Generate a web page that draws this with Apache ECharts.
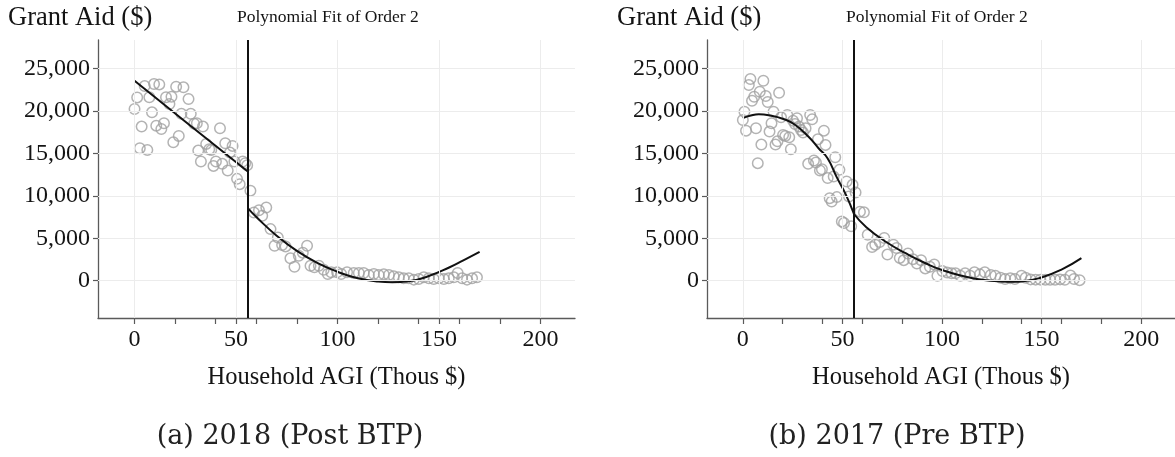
<!DOCTYPE html>
<html>
<head>
<meta charset="utf-8">
<script src="https://cdn.jsdelivr.net/npm/echarts@6/dist/echarts.min.js"></script>
<style>
  html, body { margin: 0; padding: 0; background: #fff; }
  #chart { width: 1175px; height: 457px; }
</style>
</head>
<body>
<div id="chart"></div>
<script>
// Binned grant aid (USD) against household AGI (thousands of USD)
const aid2018 = [
  [0,20220],[1.3,21590],[2.6,15600],[3.5,18150],[5,22920],[6.3,15400],[7.3,21600],[8.6,19830],
  [9.6,23160],[10.7,18260],[12.2,23120],[13.2,17870],[14.5,18540],[15.5,21600],[17.2,20810],
  [18.2,21670],[19.1,16300],[20.5,22850],[21.8,17050],[23.1,19650],[24.1,22770],[26.6,21400],
  [27.7,19650],[29.4,18480],[30.7,18540],[31.4,15320],[32.7,14030],[33.7,18150],[35.3,16110],
  [36.8,15480],[37.8,15400],[38.9,13520],[40.1,14030],[42.1,17950],[43.2,13760],[44.7,16190],
  [45.9,12970],[47.0,15090],[48.3,15870],[49.2,14030],[50.5,11990],[51.8,11370],[53.3,14030],
  [54.5,13840],[55.5,13600],
  [57.1,10600],[58.8,8030],[61.3,8300],[62.9,7640],[64.9,8620],[67.0,6070],[69.0,4110],
  [70.6,5090],[72.7,4190],[74.4,4030],[76.8,2630],[78.8,1640],[80.9,2940],[82.9,3300],
  [85.0,4110],[86.7,1760],[88.6,1570],[90.8,1760],[93.2,1290],[95.2,780],[96.9,980],[99.8,980],
  [101.8,780],[104.7,980],[108.0,900],[110.5,900],[112.9,900],[115.4,670],[117.9,780],
  [120.3,670],[122.8,740],[125.3,670],[127.7,510],[130.2,390],[132.6,270],[135.1,270],
  [137.6,120],[140,200],[142.5,390],[145,270],[147.4,200],[149.9,270],[152.4,200],[154.8,270],
  [157.3,390],[159.2,900],[161.4,270],[163.8,120],[166.3,270],[168.7,390]
];
const aid2017 = [
  [0,18930],[0.8,19910],[1.6,17670],[3.0,23040],[3.8,23750],[4.6,21200],[5.7,21670],[6.6,17950],
  [7.5,13840],[8.5,22260],[9.3,16030],[10.3,23550],[11.5,21750],[12.5,21040],[13.4,17560],
  [14.4,18540],[15.4,19910],[16.4,16030],[17.4,16420],[18.2,22140],[19.2,19240],[20.2,17170],
  [21.3,17050],[22.3,19520],[23.3,16890],[24.1,15480],[25.2,18850],[26.2,18460],[27.2,19130],
  [28.2,18150],[29.2,17750],[30.2,17440],[31.5,17950],[32.8,13760],[33.8,19520],[34.8,19000],
  [35.7,14150],[36.7,13920],[37.7,16660],[38.7,12980],[39.7,13130],[40.7,17670],[41.5,15990],
  [42.6,12080],[43.6,9720],[44.6,9330],[45.6,12270],[46.4,14540],[47.2,9840],[48.5,13050],
  [49.7,6980],[50.8,6790],[52.1,11680],[53.3,9920],[54.4,6400],[55.1,11290],
  [56.6,10390],[58.8,8130],[60.8,8050],[62.7,5410],[64.9,3970],[66.5,4240],[68.7,4550],
  [71.0,5020],[72.6,3070],[75.6,4240],[77.2,3850],[78.8,2680],[80.8,2410],[82.9,3190],
  [85.4,2530],[87.4,2020],[89.5,2410],[91.6,1440],[93.9,1630],[96.1,1910],[97.7,580],
  [100.2,1130],[102.6,970],[104.8,860],[106.8,860],[109.2,580],[111.6,860],[114.1,580],
  [116.3,980],[119,740],[121.5,980],[124.5,670],[126.8,590],[129.4,350],[131.7,200],
  [134.3,270],[136.6,200],[139.9,590],[142,350],[144.5,150],[147,120],[149.4,120],[151.9,100],
  [154.3,100],[156.8,100],[159.3,150],[161.7,100],[164.5,600],[166.3,200],[169.1,60]
];

// Order-2 polynomial fits on each side of the threshold
const fit2018Below = [[0,23550],[28,18150],[55.8,12850]];
const fit2018Above = [[55.8,8540],[60,7500],[70,5300],[80,3500],[90,2100],[100,1050],[110,280],
  [120,-100],[127,-180],[135,-80],[145,550],[155,1550],[162,2400],[170,3400]];
const fit2017Below = [[0,19150],[4,19450],[8,19600],[14,19450],[20,19080],[26,18400],[33,16950],
  [38,15600],[42.6,14400],[47,12250],[51.6,10200],[55.8,7850]];
const fit2017Above = [[55.8,7850],[62,6300],[72,4550],[82,3200],[92,2020],[100,1250],[110,580],
  [120,100],[130,-100],[136,-130],[140,-90],[150,380],[160,1300],[170,2650]];

const threshold = 55.8;

const xLabelValues = [0, 50, 100, 150, 200];
const xTickValues = [0, 20, 40, 50, 60, 80, 100, 120, 140, 150, 160, 180, 200];
const yLabelValues = [0, 5000, 10000, 15000, 20000, 25000];

const panelTitle = 'Polynomial Fit of Order 2';
const yName = 'Grant Aid ($)';
const xName = 'Household AGI (Thous $)';
const captions = ['(a) 2018 (Post BTP)', '(b) 2017 (Pre BTP)'];

const SERIF = '"Liberation Serif", "Times New Roman", serif';
const AXIS_COLOR = '#5a5a5a';
const GRID_COLOR = '#ececec';
const TEXT_COLOR = '#141414';

const panels = [
  { left: 98, scatter: aid2018, below: fit2018Below, above: fit2018Above, caption: captions[0], capX: 290 },
  { left: 707, scatter: aid2017, below: fit2017Below, above: fit2017Above, caption: captions[1], capX: 897 }
];
const PANEL_W = 477, PANEL_TOP = 40, PANEL_H = 278;

function fmt(v) { return v.toLocaleString('en-US'); }

const grid = [], xAxis = [], yAxis = [], series = [], graphic = [];

panels.forEach((p, i) => {
  grid.push({ left: p.left, top: PANEL_TOP, width: PANEL_W, height: PANEL_H, containLabel: false });
  xAxis.push({
    type: 'value', gridIndex: i, min: -18, max: 217,
    axisLine: { show: true, onZero: false, lineStyle: { color: AXIS_COLOR, width: 1.3 } },
    axisTick: { show: true, customValues: xTickValues, length: 6, lineStyle: { color: AXIS_COLOR, width: 1.2 } },
    axisLabel: { customValues: xLabelValues, fontFamily: SERIF, fontSize: 24, color: TEXT_COLOR, margin: 10 },
    splitLine: { show: false },
    name: xName, nameLocation: 'middle', nameGap: 47,
    nameTextStyle: { fontFamily: SERIF, fontSize: 24.5, color: TEXT_COLOR }
  });
  yAxis.push({
    type: 'value', gridIndex: i, min: -4400, max: 28350,
    axisLine: { show: true, onZero: false, lineStyle: { color: AXIS_COLOR, width: 1.3 } },
    axisTick: { show: true, customValues: yLabelValues, length: 5, lineStyle: { color: AXIS_COLOR, width: 1.2 } },
    axisLabel: { customValues: yLabelValues, formatter: fmt, fontFamily: SERIF, fontSize: 24, color: TEXT_COLOR, margin: 8 },
    splitLine: { show: false }
  });

  // light reference grid
  series.push({
    type: 'scatter', xAxisIndex: i, yAxisIndex: i, data: [], z: 1, silent: true,
    markLine: {
      silent: true, symbol: ['none', 'none'], animation: false,
      label: { show: false },
      lineStyle: { color: GRID_COLOR, width: 1, type: 'solid' },
      data: xLabelValues.map(v => ({ xAxis: v })).concat(yLabelValues.map(v => ({ yAxis: v })))
    }
  });

  series.push({
    type: 'scatter', xAxisIndex: i, yAxisIndex: i, data: p.scatter, z: 3,
    symbol: 'circle', symbolSize: 10.5,
    itemStyle: { color: 'rgba(255,255,255,0)', borderColor: '#a0a0a0', borderWidth: 1.5 }
  });

  const lineStyle = { color: '#111', width: 2 };
  series.push({
    type: 'line', xAxisIndex: i, yAxisIndex: i, data: p.below, smooth: true, showSymbol: false,
    lineStyle, z: 4,
    markLine: {
      silent: true, symbol: ['none', 'none'], animation: false, label: { show: false },
      lineStyle: { color: '#111', width: 2, type: 'solid' },
      data: [{ xAxis: threshold }]
    }
  });
  series.push({
    type: 'line', xAxisIndex: i, yAxisIndex: i, data: p.above, smooth: true, showSymbol: false,
    lineStyle, z: 4
  });

  graphic.push({
    type: 'text', x: p.left - 90, y: 18,
    style: { text: yName, font: '26.5px ' + SERIF, fill: TEXT_COLOR, verticalAlign: 'middle' }
  });
  graphic.push({
    type: 'text', x: p.left + 139, y: 17,
    style: { text: panelTitle, font: '17.5px ' + SERIF, fill: TEXT_COLOR, verticalAlign: 'middle' }
  });
  graphic.push({
    type: 'text', x: p.capX, y: 437,
    style: { text: p.caption, font: '27px "DejaVu Serif", serif', fill: '#222', align: 'center', verticalAlign: 'middle' }
  });
});

const chart = echarts.init(document.getElementById('chart'), null, { renderer: 'canvas' });
chart.setOption({
  animation: false,
  backgroundColor: '#fff',
  grid, xAxis, yAxis, series, graphic
});
</script>
</body>
</html>
